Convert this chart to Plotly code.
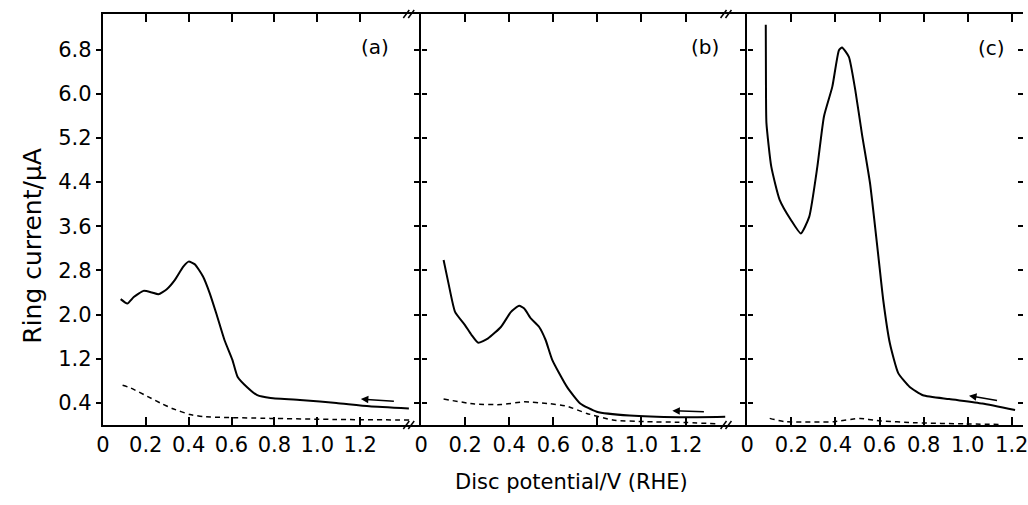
import plotly.graph_objects as go

W, H = 1028, 505

# ---------------- data (disc potential V vs RHE, ring current uA) ----------------
a_solid_v = [0.083, 0.114, 0.144, 0.19, 0.229, 0.259, 0.298, 0.336, 0.375, 0.40, 0.429, 0.467,
             0.498, 0.529, 0.567, 0.604, 0.628, 0.674, 0.72, 0.782, 0.935, 1.089, 1.243, 1.427]
a_solid_i = [2.28, 2.20, 2.32, 2.43, 2.40, 2.37, 2.46, 2.63, 2.87, 2.96, 2.91, 2.69,
             2.39, 2.02, 1.54, 1.18, 0.875, 0.68, 0.54, 0.49, 0.45, 0.40, 0.34, 0.30]
a_dash_v = [0.092, 0.13, 0.212, 0.267, 0.323, 0.406, 0.475, 0.78, 1.088, 1.43]
a_dash_i = [0.72, 0.67, 0.51, 0.40, 0.30, 0.19, 0.15, 0.12, 0.10, 0.09]

b_solid_v = [0.102, 0.124, 0.154, 0.199, 0.229, 0.259, 0.304, 0.363, 0.408, 0.445, 0.468, 0.498,
             0.535, 0.565, 0.595, 0.662, 0.722, 0.797, 0.946, 1.17, 1.38]
b_solid_i = [2.99, 2.57, 2.05, 1.81, 1.63, 1.49, 1.57, 1.78, 2.05, 2.16, 2.11, 1.93,
             1.78, 1.54, 1.18, 0.69, 0.39, 0.24, 0.17, 0.14, 0.15]
b_dash_v = [0.102, 0.243, 0.363, 0.468, 0.573, 0.662, 0.752, 0.87, 1.021, 1.17, 1.35]
b_dash_i = [0.47, 0.38, 0.37, 0.42, 0.39, 0.34, 0.21, 0.09, 0.06, 0.05, 0.02]

c_solid_v = [0.084, 0.085, 0.087, 0.109, 0.147, 0.199, 0.243, 0.281, 0.318, 0.348, 0.386, 0.416,
             0.430, 0.461, 0.490, 0.520, 0.557, 0.595, 0.617, 0.647, 0.685, 0.737, 0.797,
             0.916, 1.066, 1.215]
c_solid_i = [7.25, 6.0, 5.47, 4.68, 4.08, 3.71, 3.47, 3.77, 4.68, 5.59, 6.13, 6.79,
             6.84, 6.67, 6.07, 5.28, 4.38, 3.05, 2.26, 1.48, 0.94, 0.69, 0.54,
             0.47, 0.39, 0.27]
c_dash_v = [0.102, 0.169, 0.393, 0.513, 0.587, 0.767, 0.991, 1.14]
c_dash_i = [0.12, 0.06, 0.06, 0.12, 0.08, 0.04, 0.02, 0.01]

# scan-direction arrows: (tail V, tail I, head V, head I)
arrow_a = [1.364, 0.43, 1.203, 0.47]
arrow_b = [1.29, 0.24, 1.14, 0.26]
arrow_c = [1.14, 0.44, 1.006, 0.53]

x_tickvals = [0, 0.2, 0.4, 0.6, 0.8, 1.0, 1.2]
x_ticktext = ["0", "0.2", "0.4", "0.6", "0.8", "1.0", "1.2"]
y_tickvals = [0.4, 1.2, 2.0, 2.8, 3.6, 4.4, 5.2, 6.0, 6.8]
y_ticktext = ["0.4", "1.2", "2.0", "2.8", "3.6", "4.4", "5.2", "6.0", "6.8"]
panel_labels = ["(a)", "(b)", "(c)"]

FONT = "DejaVu Sans"


def px(x):
    return x / W


def py(y):
    return 1 - y / H


fig = go.Figure()
panels = [
    ("x", "y", a_solid_v, a_solid_i, a_dash_v, a_dash_i, arrow_a),
    ("x2", "y2", b_solid_v, b_solid_i, b_dash_v, b_dash_i, arrow_b),
    ("x3", "y3", c_solid_v, c_solid_i, c_dash_v, c_dash_i, arrow_c),
]
for xa, ya, sv, si, dv, di, arr in panels:
    fig.add_trace(go.Scatter(x=sv, y=si, xaxis=xa, yaxis=ya, mode="lines",
                             line=dict(color="black", width=2, shape="spline", smoothing=0.5),
                             showlegend=False, hoverinfo="skip"))
    fig.add_trace(go.Scatter(x=dv, y=di, xaxis=xa, yaxis=ya, mode="lines",
                             line=dict(color="black", width=1.5, dash="5px,4px",
                                       shape="spline", smoothing=0.5),
                             showlegend=False, hoverinfo="skip"))
    fig.add_annotation(x=arr[2], y=arr[3], ax=arr[0], ay=arr[1], xref=xa, yref=ya,
                       axref=xa, ayref=ya, text="", showarrow=True, arrowhead=2,
                       arrowsize=1, arrowwidth=1.5, arrowcolor="black")

# empty traces so the extra right-hand tick axes are drawn
fig.add_trace(go.Scatter(x=[], y=[], xaxis="x3", yaxis="y4", showlegend=False))
fig.add_trace(go.Scatter(x=[], y=[], xaxis="x", yaxis="y5", showlegend=False))
fig.add_trace(go.Scatter(x=[], y=[], xaxis="x2", yaxis="y6", showlegend=False))

YMAX = 7.446
ydom = [py(425), py(14)]
TF = dict(family=FONT, size=21, color="black")
common_x = dict(showline=True, linecolor="black", linewidth=2, mirror="ticks",
                ticks="inside", ticklen=8, tickwidth=1.5, tickcolor="black",
                tickvals=x_tickvals, ticktext=x_ticktext, showgrid=False, zeroline=False,
                ticklabeloverflow="allow", tickfont=TF)
common_y = dict(showline=True, linecolor="black", linewidth=2, ticks="outside",
                ticklen=5, tickwidth=1.5, tickcolor="black", tickvals=y_tickvals,
                ticktext=y_ticktext, showgrid=False, zeroline=False, range=[0, YMAX],
                domain=ydom, tickfont=TF)
right_ticks = dict(side="right", showline=False, ticklen=5, tickwidth=1.5, tickcolor="black",
                   tickvals=y_tickvals, showticklabels=False, showgrid=False, zeroline=False,
                   range=[0, YMAX])

fig.update_layout(
    width=W, height=H, margin=dict(l=0, r=0, t=0, b=0),
    paper_bgcolor="white", plot_bgcolor="white",
    xaxis=dict(domain=[px(97), px(419)], range=[0, 1.484], anchor="y", **common_x),
    xaxis2=dict(domain=[px(419), px(749)], range=[0, 1.48], anchor="y2", **common_x),
    xaxis3=dict(domain=[px(749), 1.0], range=[0, 1.251], anchor="y3", **common_x),
    yaxis=dict(anchor="x", **common_y),
    yaxis2=dict(anchor="x2", showticklabels=False, **common_y),
    yaxis3=dict(anchor="x3", showticklabels=False, **common_y),
    yaxis4=dict(anchor="x3", overlaying="y3", ticks="inside", **right_ticks),
    yaxis5=dict(anchor="x", overlaying="y", ticks="outside", **right_ticks),
    yaxis6=dict(anchor="x2", overlaying="y2", ticks="outside", **right_ticks),
)

# panel labels
for lab, xc, yc in zip(panel_labels, [372, 706, 996], [47, 47, 48]):
    fig.add_annotation(x=px(xc), y=py(yc), xref="paper", yref="paper", text=lab,
                       showarrow=False, xanchor="center", yanchor="middle",
                       font=dict(family=FONT, size=20, color="black"))

# axis titles
fig.add_annotation(x=px(25), y=py(246), xref="paper", yref="paper", text="Ring current/μA",
                   textangle=-90, showarrow=False, xanchor="center", yanchor="middle",
                   font=dict(family=FONT, size=25, color="black"))
fig.add_annotation(x=px(571), y=py(482), xref="paper", yref="paper",
                   text="Disc potential/V (RHE)", showarrow=False, xanchor="center",
                   yanchor="middle", font=dict(family=FONT, size=21, color="black"))

# axis break marks "//"
for bx in [401, 722]:
    for by in [14, 425]:
        for off in [0, 5]:
            fig.add_shape(type="line", xref="paper", yref="paper",
                          x0=px(bx + off), y0=py(by + 4), x1=px(bx + off + 6), y1=py(by - 4),
                          line=dict(color="black", width=1.5))

fig.write_html("out.html")
